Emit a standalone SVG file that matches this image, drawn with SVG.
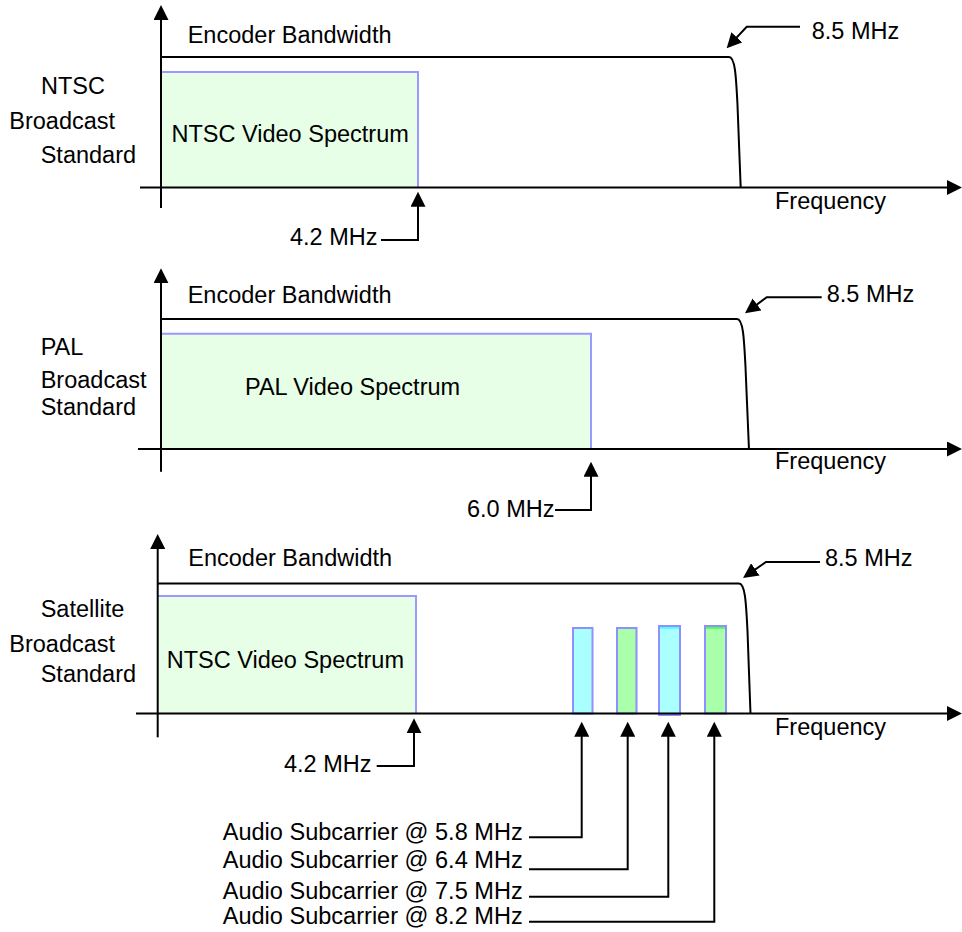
<svg xmlns="http://www.w3.org/2000/svg" width="962" height="932" viewBox="0 0 962 932">
<style>
text{font-family:"Liberation Sans",Arial,sans-serif;font-size:23.5px;fill:#000}
.ax{stroke:#000;stroke-width:2;fill:none}
.ld{stroke:#000;stroke-width:2;fill:none}
.vid{fill:#e6ffe6;stroke:none}
.edge{stroke:#9999ff;stroke-width:2;fill:none}
.bar{stroke:#8f8fff;stroke-width:2}
.aud{font-size:23px}
</style>
<defs>
<marker id="ah" viewBox="0 0 15 15" refX="7" refY="7.5" markerWidth="15" markerHeight="15" orient="auto" markerUnits="userSpaceOnUse">
<path d="M0,0 L15,7.5 L0,15 z" fill="#000"/>
</marker>
</defs>
<rect width="962" height="932" fill="#fff"/>

<!-- Panel 1 NTSC -->
<g id="ntsc-spectrum">
<rect class="vid" x="161" y="72" width="257" height="115.5"/>
<polyline class="edge" points="161,72 418,72 418,187.5"/>
<text x="171.5" y="142">NTSC Video Spectrum</text>
</g>
<g id="ntsc-axes">
<line class="ax" x1="161" y1="208" x2="161" y2="13" marker-end="url(#ah)"/>
<line class="ax" x1="140" y1="187.5" x2="954" y2="187.5" marker-end="url(#ah)"/>
<text x="775" y="209">Frequency</text>
</g>
<g id="ntsc-encoder">
<path class="ax" d="M161,57 H729 C735,57 736,75 737.5,105 L740.7,188"/>
<text x="187.7" y="43">Encoder Bandwidth</text>
</g>
<g id="ntsc-label">
<text x="41" y="94.3">NTSC</text>
<text x="9.3" y="129">Broadcast</text>
<text x="40.7" y="162.7">Standard</text>
</g>
<g id="ntsc-42-label"><text x="290" y="245">4.2 MHz</text></g>
<g id="ntsc-85-label"><text x="811.7" y="39.3">8.5 MHz</text></g>

<!-- Panel 2 PAL -->
<g id="pal-spectrum">
<rect class="vid" x="161" y="333.7" width="430" height="116.3"/>
<polyline class="edge" points="161,333.7 591,333.7 591,449"/>
<text x="245" y="395">PAL Video Spectrum</text>
</g>
<g id="pal-axes">
<line class="ax" x1="161" y1="471.7" x2="161" y2="276.3" marker-end="url(#ah)"/>
<line class="ax" x1="138" y1="449" x2="954" y2="449" marker-end="url(#ah)"/>
<text x="775" y="469">Frequency</text>
</g>
<g id="pal-encoder">
<path class="ax" d="M161,319 H737 C743,319 744,337 745.5,367 L749,450"/>
<text x="187.7" y="303.3">Encoder Bandwidth</text>
</g>
<g id="pal-label">
<text x="40.7" y="355">PAL</text>
<text x="40.7" y="388.3">Broadcast</text>
<text x="40.7" y="415">Standard</text>
</g>
<g id="pal-60-label"><text x="467" y="517">6.0 MHz</text></g>
<g id="pal-85-label"><text x="826.7" y="301.7">8.5 MHz</text></g>

<!-- Panel 3 Satellite -->
<g id="sat-spectrum">
<rect class="vid" x="158" y="596" width="258" height="117.5"/>
<polyline class="edge" points="158,596 416,596 416,713.5"/>
<text x="166.7" y="667.7">NTSC Video Spectrum</text>
</g>
<g id="sat-bars">
<rect class="bar" x="573" y="628" width="19.5" height="85.5" fill="#aaffff"/>
<rect class="bar" x="617" y="628" width="19.5" height="85.5" fill="#aaffaa"/>
<rect class="bar" x="659" y="626" width="21" height="89" fill="#aaffff"/>
<line x1="660" y1="628" x2="679" y2="628" stroke="#55ffff" stroke-width="2"/>
<rect class="bar" x="705" y="626" width="21" height="87.5" fill="#aaffaa"/>
<line x1="706" y1="628" x2="725" y2="628" stroke="#55ff55" stroke-width="2"/>
</g>
<g id="sat-axes">
<line class="ax" x1="157.7" y1="737.3" x2="157.7" y2="542" marker-end="url(#ah)"/>
<line class="ax" x1="136" y1="713.5" x2="954" y2="713.5" marker-end="url(#ah)"/>
<text x="775" y="735">Frequency</text>
</g>
<g id="sat-encoder">
<path class="ax" d="M157.7,583.5 H739 C745,583.5 746,601 747.5,631 L750.5,714"/>
<text x="188.3" y="565.7">Encoder Bandwidth</text>
</g>
<g id="sat-label">
<text x="40.7" y="616.7">Satellite</text>
<text x="9.3" y="651.7">Broadcast</text>
<text x="40.7" y="681.7">Standard</text>
</g>
<g id="sat-42-label"><text x="284" y="771.7">4.2 MHz</text></g>
<g id="sat-85-label"><text x="825" y="566">8.5 MHz</text></g>
<g id="audio-labels">
<text class="aud" x="222.7" y="840" textLength="300" lengthAdjust="spacingAndGlyphs">Audio Subcarrier @ 5.8 MHz</text>
<text class="aud" x="222.7" y="868.3" textLength="300" lengthAdjust="spacingAndGlyphs">Audio Subcarrier @ 6.4 MHz</text>
<text class="aud" x="222.7" y="899" textLength="300" lengthAdjust="spacingAndGlyphs">Audio Subcarrier @ 7.5 MHz</text>
<text class="aud" x="222.7" y="924" textLength="300" lengthAdjust="spacingAndGlyphs">Audio Subcarrier @ 8.2 MHz</text>
</g>

<g id="connectors">
<polyline class="ld" points="381,240 418,240 418,199.7" marker-end="url(#ah)"/>
<polyline class="ld" points="800,26.7 746.7,26.7 732.1,42.4" marker-end="url(#ah)"/>
<polyline class="ld" points="555,510 591,510 591,469.7" marker-end="url(#ah)"/>
<polyline class="ld" points="821.7,297.3 766.7,297.3 751.4,308.6" marker-end="url(#ah)"/>
<polyline class="ld" points="376.7,766 414,766 414,726.3" marker-end="url(#ah)"/>
<polyline class="ld" points="820,562 766,562 749.6,573.4" marker-end="url(#ah)"/>
<polyline class="ld" points="529,837.3 581.7,837.3 581.7,729.7" marker-end="url(#ah)"/>
<polyline class="ld" points="529,869.3 627.7,869.3 627.7,729.7" marker-end="url(#ah)"/>
<polyline class="ld" points="529,896.7 668.3,896.7 668.3,729.7" marker-end="url(#ah)"/>
<polyline class="ld" points="529,921.7 714.3,921.7 714.3,729.7" marker-end="url(#ah)"/>
</g>
</svg>
